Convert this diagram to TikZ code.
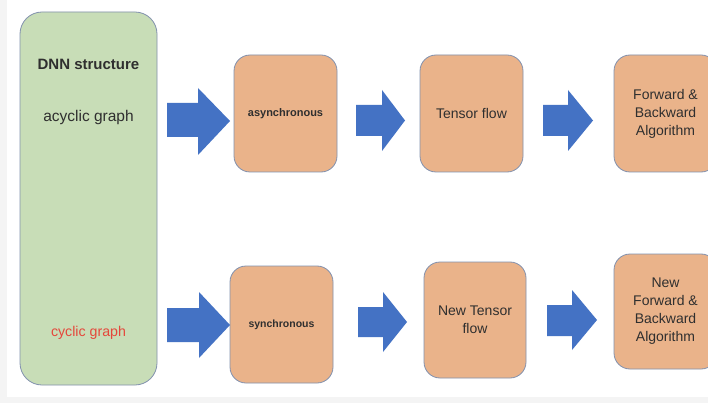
\documentclass[tikz,border=0pt]{standalone}
\usepackage{fontspec}
\setmainfont{Liberation Sans}
\definecolor{greenfill}{HTML}{C8DDB7}
\definecolor{peach}{HTML}{EAB38A}
\definecolor{edgeblue}{HTML}{8291AE}
\definecolor{arrowblue}{HTML}{4472C4}
\definecolor{txt}{HTML}{2F2F2F}
\definecolor{redtxt}{HTML}{E5473B}
\definecolor{bgstrip}{HTML}{F4F4F4}
\tikzset{
  box/.style={draw=edgeblue, line width=0.8pt, fill=peach, rounded corners=16pt,
    text=txt, align=center, font=\fontsize{14}{18}\selectfont, inner sep=0pt},
  bigbox/.style={draw=edgeblue, line width=0.8pt, fill=greenfill, rounded corners=22pt},
  blockarrow/.style={fill=arrowblue, draw=none},
  lbl/.style={text=txt, align=center, inner sep=0pt}
}
\begin{document}
\begin{tikzpicture}[x=1pt,y=-1pt]
\useasboundingbox (0,0) rectangle (708,403);
\fill[bgstrip] (0,0) rectangle (708,403);
\fill[white] (7,0) rectangle (708,397);
\clip (0,0) rectangle (708,403);
% left green box
\draw[bigbox] (20,12) rectangle (157,385);
\node[lbl, font=\fontsize{15}{18}\selectfont\bfseries] (dnn) at (88.5,64) {DNN structure};
\node[lbl, font=\fontsize{15.5}{18}\selectfont] (acyc) at (88.5,117) {acyclic graph};
\node[lbl, text=redtxt, font=\fontsize{14.2}{18}\selectfont] (cyc) at (88.5,333) {cyclic graph};
% top row boxes
\node[box, minimum width=103pt, minimum height=117pt, font=\fontsize{11}{14}\selectfont\bfseries] (async) at (285.5,113.5) {asynchronous};
\node[box, minimum width=103pt, minimum height=117pt] (tf) at (471.5,113.5) {Tensor flow};
\node[box, minimum width=103pt, minimum height=117pt] (fb) at (665.5,113.5) {Forward \&\\Backward\\Algorithm};
% bottom row boxes
\node[box, minimum width=103pt, minimum height=117pt, font=\fontsize{10.5}{14}\selectfont\bfseries] (sync) at (281.5,324.5) {synchronous};
\node[box, minimum width=102pt, minimum height=116pt] (ntf) at (475,320) {New Tensor\\flow};
\node[box, minimum width=103pt, minimum height=115pt] (nfb) at (665.5,311.5) {New\\Forward \&\\Backward\\Algorithm};
% block arrows top row
\fill[blockarrow] (167,103) -- (198,103) -- (198,88) -- (230,121) -- (198,155) -- (198,137) -- (167,137) -- cycle;
\fill[blockarrow] (356,105) -- (382,105) -- (382,90) -- (405,120.5) -- (382,151) -- (382,136) -- (356,136) -- cycle;
\fill[blockarrow] (543,105) -- (568,105) -- (568,90) -- (593,120.5) -- (568,151) -- (568,136) -- (543,136) -- cycle;
% block arrows bottom row
\fill[blockarrow] (167,308) -- (199,308) -- (199,292) -- (230,325) -- (199,358) -- (199,342) -- (167,342) -- cycle;
\fill[blockarrow] (358,307) -- (383,307) -- (383,292) -- (407,322) -- (383,352) -- (383,337) -- (358,337) -- cycle;
\fill[blockarrow] (547,305) -- (572,305) -- (572,290) -- (597,320) -- (572,350) -- (572,336) -- (547,336) -- cycle;
\end{tikzpicture}
\end{document}
